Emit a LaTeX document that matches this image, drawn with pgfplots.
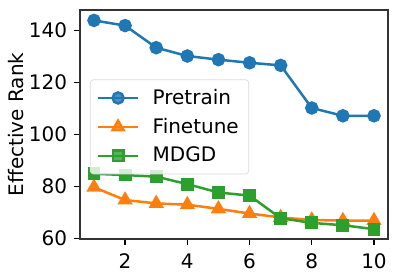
\documentclass[border=0pt]{standalone}
\usepackage{pgfplots}
\pgfplotsset{compat=1.18}
\usetikzlibrary{calc}
\usepackage{fontspec}
\setmainfont{DejaVu Sans}
\definecolor{tabblue}{HTML}{1F77B4}
\definecolor{taborange}{HTML}{FF7F0E}
\definecolor{tabgreen}{HTML}{2CA02C}
\begin{document}
\fontsize{12}{14}\selectfont
\begin{tikzpicture}
\begin{axis}[
  name=ax,
  scale only axis,
  width=184.8pt, height=137.4pt,
  xmin=0.55, xmax=10.45, ymin=59.7, ymax=147.8,
  xtick={2,4,6,8,10}, ytick={60,80,100,120,140},
  tick align=outside, tick pos=left,
  major tick length=3.5pt,
  tick style={black, line width=0.8pt},
  axis line style={line width=0.8pt, black!80},
  /pgf/number format/assume math mode=true,
  ticklabel style={font=\fontsize{12}{14}\selectfont},
  xticklabel style={yshift=-1pt},
  ylabel={Effective Rank},
  ylabel style={font=\fontsize{12}{14}\selectfont, yshift=-5pt},
  legend style={at={(0.032,0.697)}, anchor=north west, draw=black!15, rounded corners=2pt, fill=white, fill opacity=0.8, text opacity=1, font=\fontsize{12}{14}\selectfont, row sep=2.5pt, inner xsep=4pt, inner ysep=3.5pt},
  legend cell align=left,
  legend image code/.code={\draw[#1] (0pt,0pt) -- (24pt,0pt); \draw[#1, mark repeat=2, mark phase=2] plot coordinates {(0pt,0pt) (12pt,0pt) (24pt,0pt)}; \path (30pt,0pt);},
]
\addplot[color=tabblue, line width=1.5pt, mark=*, mark size=3.3pt] coordinates {
(1,143.8) (2,141.8) (3,133.3) (4,130.1) (5,128.7) (6,127.5) (7,126.5) (8,110.1) (9,107.1) (10,107.1)};
\addlegendentry{Pretrain}
\addplot[color=taborange, line width=1.5pt, mark=triangle*, mark size=3.8pt] coordinates {
(1,79.6) (2,74.7) (3,73.4) (4,72.9) (5,71.3) (6,69.5) (7,68.0) (8,67.0) (9,66.8) (10,66.8)};
\addlegendentry{Finetune}
\addplot[color=tabgreen, line width=1.5pt, mark=square*, mark size=3.1pt] coordinates {
(1,84.8) (2,84.3) (3,83.7) (4,80.8) (5,77.6) (6,76.4) (7,67.7) (8,65.9) (9,65.0) (10,63.5)};
\addlegendentry{MDGD}
\end{axis}
\pgfresetboundingbox
\useasboundingbox ($(ax.south west)+(-48pt,-23.6pt)$) rectangle ($(ax.north east)+(6.6pt,6pt)$);
\end{tikzpicture}
\end{document}
